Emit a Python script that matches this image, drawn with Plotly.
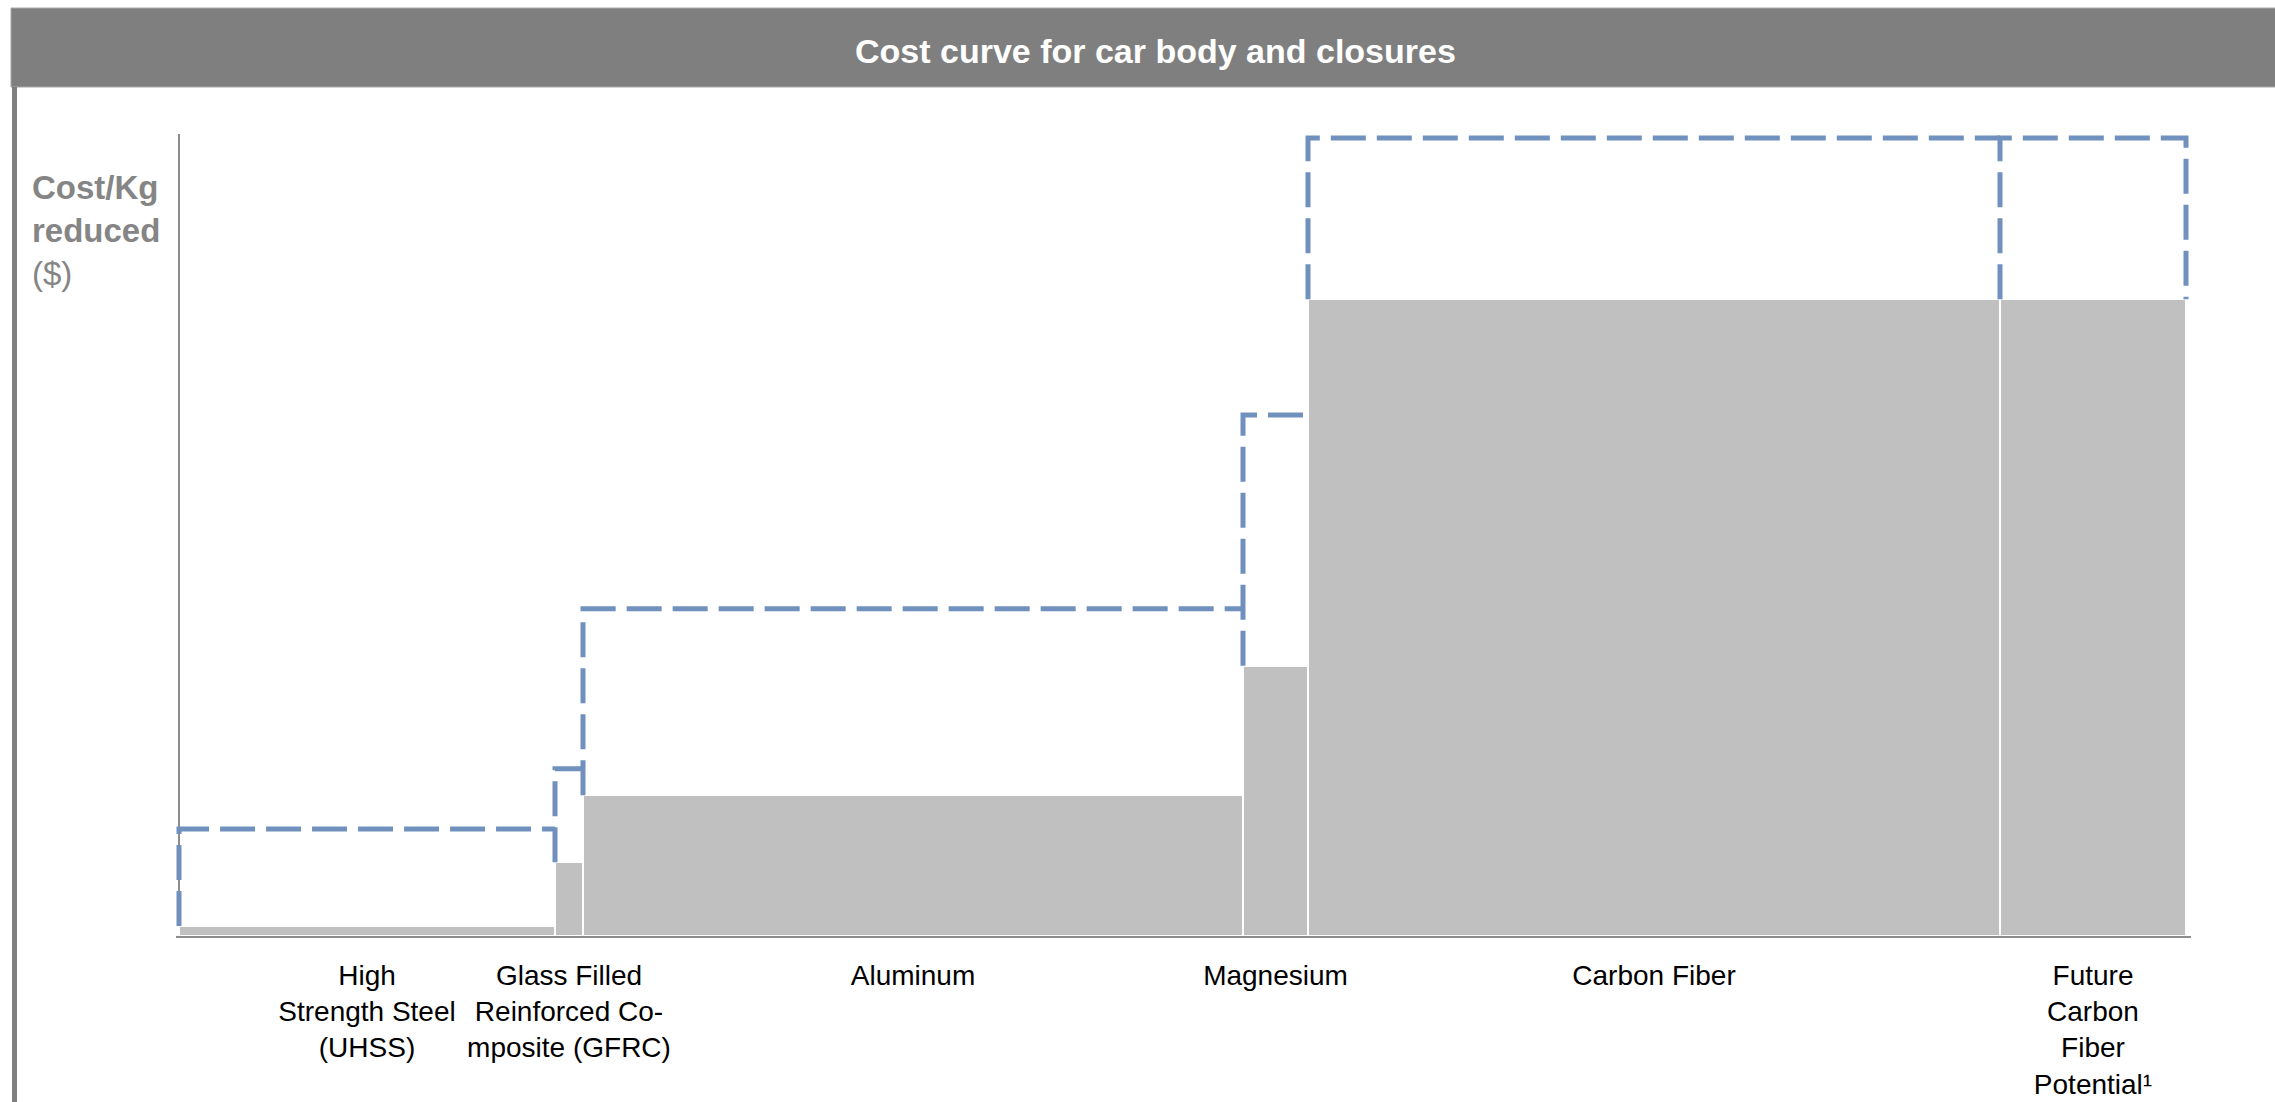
import numpy as np
import plotly.graph_objects as go

# Materials for car body and closures (tick labels, one per block)
materials = [
    "High<br>Strength Steel<br>(UHSS)",
    "Glass Filled<br>Reinforced Co-<br>mposite (GFRC)",
    "Aluminum",
    "Magnesium",
    "Carbon Fiber",
    "Future<br>Carbon<br>Fiber<br>Potential¹",
]
# Width of each block (weight reduction potential, kg)
weight_reduction = [37.6, 2.8, 66.0, 6.5, 69.2, 18.6]
# Cost per kg reduced: current level (solid bar) and upper range (dashed outline)
cost_current = [0.25, 1.85, 3.53, 6.77, 15.96, 15.96]
cost_upper = [2.68, 4.19, 8.20, 13.06, 20.0, 20.0]

W, H = 2275, 1102
L, R, T, B = 176, 84, 134, 166
X_RANGE = [-0.3, 201.2]
Y_RANGE = [0, 20.1]

edges = np.concatenate([[0.0], np.cumsum(weight_reduction)])
centers = (edges[:-1] + edges[1:]) / 2

FONT = "Liberation Sans, Arial, sans-serif"
BAR_GREY = "#C0C0C0"
DASH_BLUE = "#7090BE"
FRAME_GREY = "#7F7F7F"
AXIS_GREY = "#8C8C8C"

fig = go.Figure()

fig.add_trace(go.Bar(
    x=centers,
    y=cost_current,
    width=weight_reduction,
    marker=dict(color=BAR_GREY, line=dict(color="white", width=2)),
    hoverinfo="skip",
    showlegend=False,
))

# Dashed step outline: rise from the bar top to the upper cost, then run across the block
dx, dy = [], []
n = len(weight_reduction)
for i in range(n):
    x0, x1 = edges[i], edges[i + 1]
    dx += [x0, x0, x1]
    dy += [cost_current[i], cost_upper[i], cost_upper[i]]
    if i == n - 1:
        dx.append(x1)
        dy.append(cost_current[i])
    dx.append(None)
    dy.append(None)

fig.add_trace(go.Scatter(
    x=dx, y=dy, mode="lines",
    line=dict(color=DASH_BLUE, width=5, dash="35px,11px"),
    hoverinfo="skip", showlegend=False,
))

plot_w = W - L - R
plot_h = H - T - B


def px_x(p):
    return (p - L) / plot_w


def px_y(p):
    return (H - B - p) / plot_h


shapes = [
    # header band
    dict(type="rect", xref="paper", yref="paper",
         x0=px_x(11), x1=px_x(W + 5), y0=px_y(87), y1=px_y(8),
         fillcolor=FRAME_GREY, line=dict(color="#A8A8A8", width=1), layer="below"),
    # left frame rule
    dict(type="line", xref="paper", yref="paper",
         x0=px_x(14.5), x1=px_x(14.5), y0=px_y(87), y1=px_y(H + 5),
         line=dict(color=FRAME_GREY, width=5)),
]

annotations = [
    dict(text="<b>Cost curve for car body and closures</b>",
         xref="paper", yref="paper", x=px_x(1155), y=px_y(51),
         xanchor="center", yanchor="middle", showarrow=False,
         font=dict(family=FONT, size=34, color="white")),
    dict(text="<b>Cost/Kg<br>reduced</b><br>($)",
         xref="paper", yref="paper", x=px_x(30), y=px_y(167),
         xanchor="left", yanchor="top", align="left", showarrow=False,
         font=dict(family=FONT, size=33, color="#858585")),
]

fig.update_layout(
    width=W, height=H,
    margin=dict(l=L, r=R, t=T, b=B, pad=0, autoexpand=False),
    paper_bgcolor="white", plot_bgcolor="white",
    bargap=0,
    shapes=shapes,
    annotations=annotations,
    xaxis=dict(
        range=X_RANGE, tickmode="array", tickvals=centers, ticktext=materials,
        showgrid=False, ticks="outside", ticklen=13, tickcolor="rgba(0,0,0,0)",
        automargin=False,
        showline=True, linecolor=AXIS_GREY, linewidth=2,
        zeroline=True, zerolinecolor=AXIS_GREY, zerolinewidth=1.5,
        tickfont=dict(family=FONT, size=28, color="black"),
        fixedrange=True,
    ),
    yaxis=dict(
        range=Y_RANGE, showticklabels=False, showgrid=False, ticks="",
        zeroline=False, showline=False, automargin=False,
        fixedrange=True,
    ),
)

fig.write_html("out.html")
